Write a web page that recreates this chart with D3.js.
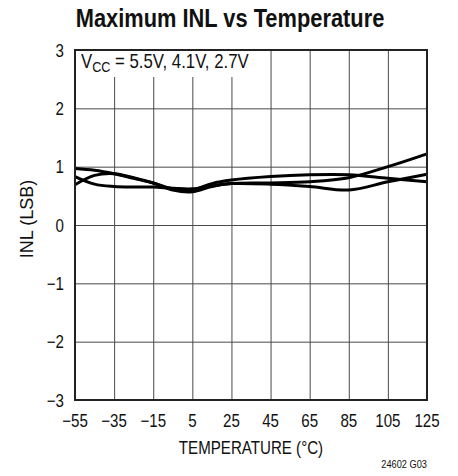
<!DOCTYPE html>
<html>
<head>
<meta charset="utf-8">
<script src="https://cdn.jsdelivr.net/npm/d3@7"></script>
<style>
  body { margin: 0; background: #fff; }
  text { font-family: "Liberation Sans", Arial, sans-serif; fill: #111; }
  .grid line { stroke: #4a4a4a; stroke-width: 1; }
  .grid path { display: none; }
  .curve { fill: none; stroke: #000; stroke-width: 3; }
</style>
</head>
<body>
<div id="chart"></div>
<script>
  // temperature points (°C) and INL readings for the three supply curves
  var temps = [-55, -45, -35, -25, -15, -5, 5, 15, 25, 45, 65, 85, 105, 125];
  var inlA = [0.97, 0.94, 0.88, 0.80, 0.72, 0.62, 0.60, 0.71, 0.77, 0.83, 0.86, 0.86, 0.80, 0.74];
  var inlB = [0.83, 0.70, 0.66, 0.65, 0.65, 0.63, 0.62, 0.67, 0.71, 0.70, 0.66, 0.60, 0.74, 0.87];
  var inlC = [0.69, 0.85, 0.88, 0.81, 0.72, 0.60, 0.57, 0.66, 0.71, 0.72, 0.74, 0.81, 1.00, 1.22];
  var xTicks = [-55, -35, -15, 5, 25, 45, 65, 85, 105, 125];
  var yTicks = [-3, -2, -1, 0, 1, 2, 3];

  var margin = {top: 50, right: 31, bottom: 76, left: 75},
    width = 458 - margin.left - margin.right,
    height = 476 - margin.top - margin.bottom;

  var SX = 0.84; // squeeze to mimic a condensed face

  var svg = d3.select("#chart").append("svg")
    .attr("width", 458)
    .attr("height", 476);

  // text with horizontal squeeze, anchored at (x, y)
  function label(parent, x, y, str, size, anchor, rot, sx) {
    var t = parent.append("text")
      .attr("transform", "translate(" + x + "," + y + ")" + (rot ? " rotate(" + rot + ")" : "") +
        " scale(" + (sx || SX) + ",1)")
      .attr("text-anchor", anchor || "start")
      .style("font-size", size + "px")
      .text(str);
    return t;
  }

  var g = svg.append("g")
    .attr("transform", "translate(" + margin.left + "," + margin.top + ")");

  var x = d3.scaleLinear().domain([-55, 125]).range([0, width]);
  var y = d3.scaleLinear().domain([-3, 3]).range([height, 0]);

  // grid lines
  g.append("g")
    .attr("class", "grid")
    .attr("transform", "translate(0," + height + ")")
    .call(d3.axisBottom(x).tickValues(xTicks).tickSize(-height).tickFormat(""));
  g.append("g")
    .attr("class", "grid")
    .call(d3.axisLeft(y).tickValues(yTicks).tickSize(-width).tickFormat(""));

  // white box behind the note
  g.append("rect")
    .attr("x", 1).attr("y", 1)
    .attr("width", 178).attr("height", 26)
    .attr("fill", "#fff");

  var note = label(g, 6, 18, "", 20);
  note.append("tspan").text("V");
  note.append("tspan").attr("dy", 4).style("font-size", "15px").text("CC");
  note.append("tspan").attr("dy", -4).text(" = 5.5V, 4.1V, 2.7V");

  // curves
  var line = d3.line()
    .x(function (d) { return x(d[0]); })
    .y(function (d) { return y(d[1]); })
    .curve(d3.curveCatmullRom);

  [inlA, inlB, inlC].forEach(function (vals) {
    g.append("path")
      .attr("class", "curve")
      .attr("d", line(temps.map(function (t, i) { return [t, vals[i]]; })));
  });

  // frame
  g.append("rect")
    .attr("width", width).attr("height", height)
    .attr("fill", "none")
    .attr("stroke", "#222")
    .attr("stroke-width", 2);

  // tick labels
  var fmt = d3.format("d");
  xTicks.forEach(function (d) {
    label(g, x(d), height + 27, fmt(d), 18, "middle");
  });
  yTicks.forEach(function (d) {
    label(g, -11, y(d) + 6.5, fmt(d), 18, "end");
  });

  // titles
  label(svg, 230, 27, "Maximum INL vs Temperature", 26, "middle").style("font-weight", "bold");
  label(svg, margin.left + width / 2, 454, "TEMPERATURE (°C)", 18, "middle");
  label(svg, 33, 219, "INL (LSB)", 18, "middle", -90, 1.0);
  label(svg, 427, 468, "24602 G03", 11, "end");
</script>
</body>
</html>
